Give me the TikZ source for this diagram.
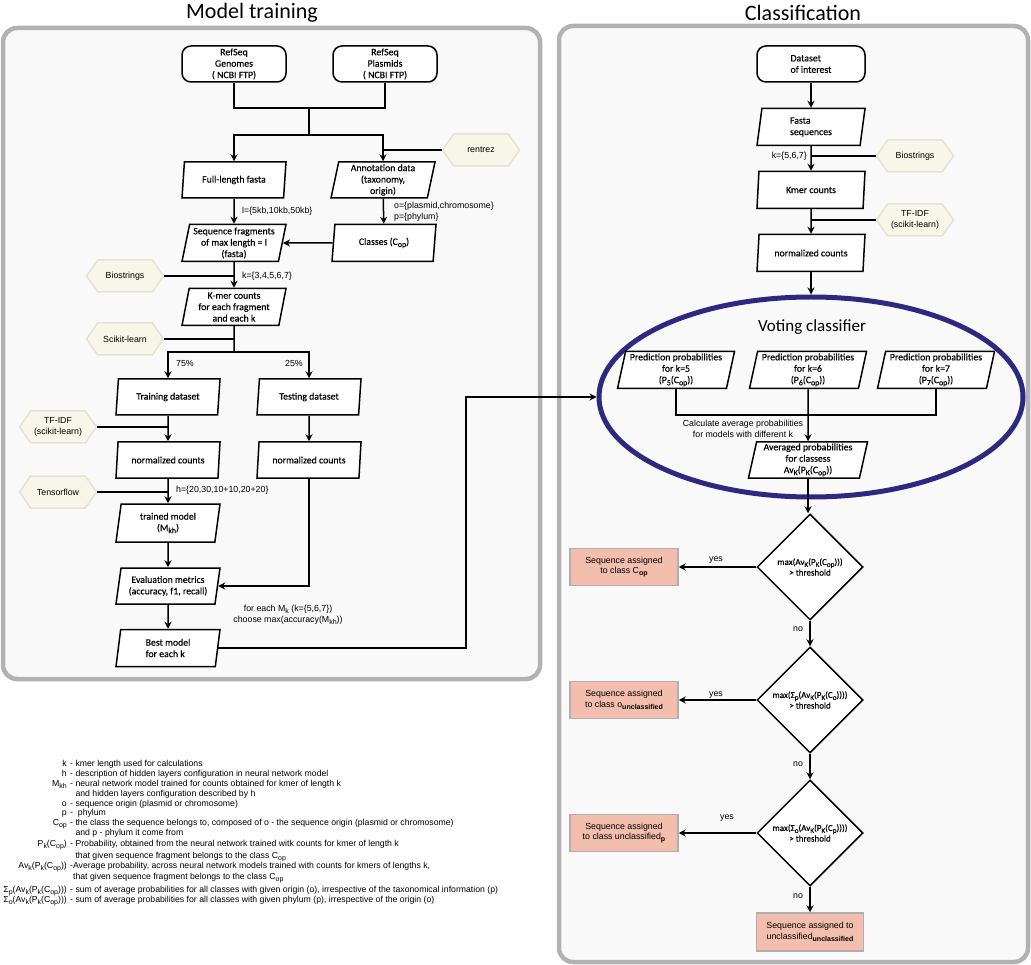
\documentclass[tikz,border=0pt]{standalone}
\usepackage{fontspec}
\setmainfont{Carlito}
\newfontfamily\arialfont{Liberation Sans}
\newfontfamily\boxfam{Carlito}[FakeBold=0.4]
\usetikzlibrary{arrows.meta,shapes.geometric,shapes.symbols}
\definecolor{panelfill}{RGB}{249,249,249}
\definecolor{paneldraw}{RGB}{178,178,178}
\definecolor{toolfill}{RGB}{248,246,232}
\definecolor{tooldraw}{RGB}{228,226,210}
\definecolor{resultfill}{RGB}{243,190,174}
\definecolor{resultdraw}{RGB}{175,175,175}
\definecolor{votedraw}{RGB}{46,41,128}
\newcommand{\boxfont}{\boxfam\fontsize{9.8}{11.4}\selectfont}
\newcommand{\smallboxfont}{\boxfam\fontsize{9}{10.6}\selectfont}
\newcommand{\labelfont}{\arialfont\fontsize{8.8}{10.6}\selectfont}
\newcommand{\legendfont}{\arialfont\fontsize{8.7}{10}\selectfont}
\newcommand{\lowsub}[1]{\raisebox{-0.45ex}{\scalebox{0.8}{#1}}}
\tikzset{
  panel/.style={draw=paneldraw, fill=panelfill, line width=4.5pt, rounded corners=14pt},
  paneltitle/.style={font=\fontsize{22}{24}\selectfont},
  startbox/.style={rectangle, rounded corners=9pt, draw, line width=1.5pt, fill=white, minimum width=104pt, minimum height=36pt, inner sep=1pt, align=center, font=\boxfont},
  iobox/.style={trapezium, trapezium left angle=77, trapezium right angle=103, trapezium stretches body=true, draw, line width=1.5pt, fill=white, minimum width=104pt, minimum height=36pt, inner sep=1pt, align=center, font=\boxfont},
  toolbox/.style={signal, signal to=east and west, signal pointer angle=110, draw=tooldraw, fill=toolfill, line width=1.5pt, minimum width=77pt, minimum height=32pt, inner sep=1pt, align=center, font=\labelfont},
  decision/.style={diamond, draw, line width=1.5pt, fill=white, minimum width=106pt, minimum height=106pt, inner sep=0pt, align=center, font=\smallboxfont},
  resultbox/.style={rectangle, draw=resultdraw, fill=resultfill, line width=1.5pt, minimum width=108pt, minimum height=37pt, inner sep=1pt, align=center, font=\labelfont},
  flow/.style={line width=1.5pt},
  flowarr/.style={line width=1.5pt, -{Stealth[length=7pt, width=7pt]}},
  lbl/.style={font=\labelfont, inner sep=1pt},
  legsym/.style={font=\legendfont, anchor=base east, inner sep=0pt},
  legtxt/.style={font=\legendfont, anchor=base west, inner sep=0pt}
}
\begin{document}
\begin{tikzpicture}[x=1pt, y=-1pt]
  \useasboundingbox (0,0) rectangle (1031,965);
  % panels
  \draw[panel] (3,28) rectangle (540,679);
  \draw[panel] (559,26) rectangle (1028,962);
  \node[paneltitle] (ttrain) at (252,13) {Model training};
  \node[paneltitle] (tclass) at (803,13) {Classification};

  % model training
  \node[startbox] (gen) at (234,64) {RefSeq\\Genomes\\( NCBI FTP)};
  \node[startbox] (pla) at (385,64) {RefSeq\\Plasmids\\( NCBI FTP)};
  \node[iobox] (full) at (234,180) {Full-length fasta};
  \node[iobox] (annot) at (383,180) {Annotation data\\(taxonomy,\\origin)};
  \node[iobox, minimum height=37pt] (frag) at (234,243) {Sequence fragments\\of max length = l\\(fasta)};
  \node[iobox, minimum height=37pt] (cls) at (384,243) {Classes (C\lowsub{op})};
  \node[iobox, minimum height=37pt] (kmer) at (234,307) {K-mer counts\\for each fragment\\and each k};
  \node[iobox] (train) at (168,397) {Training dataset};
  \node[iobox] (test) at (309,397) {Testing dataset};
  \node[iobox] (norm1) at (168,460) {normalized counts};
  \node[iobox] (norm2) at (309,460) {normalized counts};
  \node[iobox, minimum height=38pt] (model) at (168,523) {trained model\\(M\lowsub{kh})};
  \node[iobox] (evalm) at (168,586) {Evaluation metrics\\(accuracy, f1, recall)};
  \node[iobox, minimum height=37pt, align=left] (best) at (168,648) {Best model\\for each k};

  \node[toolbox] (rentrez) at (481,150) {rentrez};
  \node[toolbox] (bio1) at (125,276) {Biostrings};
  \node[toolbox] (sci) at (125,339) {Scikit-learn};
  \node[toolbox] (tfidf1) at (58,427) {TF-IDF\\(scikit-learn)};
  \node[toolbox] (tf) at (58,492) {Tensorflow};

  \coordinate (j1) at (309,108);
  \coordinate (j2) at (309,135);
  \coordinate (j3) at (234,352);
  \draw[flow] (gen.south) |- (j1) -| (pla.south);
  \draw[flow] (j1) -- (j2);
  \draw[flowarr] (j2) -| (full.north);
  \draw[flowarr] (j2) -| (annot.north);
  \draw[flow] (rentrez.west) -- (rentrez.west -| annot.north);
  \draw[flowarr] (full) -- (frag);
  \draw[flowarr] (annot) -- (cls);
  \draw[flowarr] (cls.west) -- (frag.east);
  \draw[flowarr] (frag) -- (kmer);
  \draw[flow] (bio1.east) -- (bio1.east -| frag.south);
  \draw[flow] (kmer.south) -- (j3);
  \draw[flow] (sci.east) -- (sci.east -| kmer.south);
  \draw[flowarr] (j3) -| (train.north);
  \draw[flowarr] (j3) -| (test.north);
  \draw[flowarr] (train) -- (norm1);
  \draw[flow] (tfidf1.east) -- (tfidf1.east -| train.south);
  \draw[flowarr] (test) -- (norm2);
  \draw[flowarr] (norm1) -- (model);
  \draw[flow] (tf.east) -- (tf.east -| norm1.south);
  \draw[flowarr] (model) -- (evalm);
  \draw[flowarr] (norm2.south) |- (evalm.east);
  \draw[flowarr] (evalm) -- (best);

  \node[lbl, anchor=west] (llen) at (241,211) {l=\{5kb,10kb,50kb\}};
  \node[lbl, anchor=west, align=left] (lop) at (393,212) {o=\{plasmid,chromosome\}\\p=\{phylum\}};
  \node[lbl, anchor=west] (lk1) at (241,276) {k=\{3,4,5,6,7\}};
  \node[lbl, anchor=west] (l75) at (175,363) {75\%};
  \node[lbl, anchor=east] (l25) at (304,363) {25\%};
  \node[lbl, anchor=west] (lh) at (175,490) {h=\{20,30,10+10,20+20\}};
  \node[lbl, align=center] (lbest) at (288,615) {for each M\lowsub{k} (k=\{5,6,7\})\\choose max(accuracy(M\lowsub{kh}))};

  % classification
  \node[startbox, minimum width=108pt, align=left] (data) at (811,64) {Dataset\\of interest};
  \node[iobox, minimum width=108pt, minimum height=37pt, align=left] (fasta) at (811,127) {Fasta\\sequences};
  \node[iobox, minimum width=108pt, minimum height=37pt] (kc) at (811,190) {Kmer counts};
  \node[iobox, minimum width=108pt, minimum height=37pt] (norm3) at (811,253) {normalized counts};
  \node[toolbox] (bio2) at (915,156) {Biostrings};
  \node[toolbox] (tfidf2) at (915,220) {TF-IDF\\(scikit-learn)};

  \node[ellipse, draw=votedraw, line width=5pt, minimum width=424pt, minimum height=200pt] (vote) at (811,397) {};
  \node[font=\fontsize{17}{19}\selectfont] (vtitle) at (812,327) {Voting classifier};
  \node[iobox, minimum width=117pt, minimum height=37pt] (pp5) at (676,370) {Prediction probabilities\\for k=5\\(P\lowsub{5}(C\lowsub{op}))};
  \node[iobox, minimum width=117pt, minimum height=37pt] (pp6) at (808,370) {Prediction probabilities\\for k=6\\(P\lowsub{6}(C\lowsub{op}))};
  \node[iobox, minimum width=117pt, minimum height=37pt] (pp7) at (936,370) {Prediction probabilities\\for k=7\\(P\lowsub{7}(C\lowsub{op}))};
  \node[iobox, minimum width=119pt] (avg) at (808,460) {Averaged probabilities\\for classess\\Av\lowsub{K}(P\lowsub{K}(C\lowsub{op}))};

  \node[decision] (d1) at (810,567) {max(Av\lowsub{K}(P\lowsub{K}(C\lowsub{op})))\\> threshold};
  \node[decision] (d2) at (810,700) {max(Σ\lowsub{p}(Av\lowsub{K}(P\lowsub{K}(C\lowsub{o}))))\\> threshold};
  \node[decision] (d3) at (810,833) {max(Σ\lowsub{o}(Av\lowsub{K}(P\lowsub{K}(C\lowsub{p}))))\\> threshold};
  \node[resultbox] (r1) at (624,567) {Sequence assigned\\to class C\lowsub{\textbf{op}}};
  \node[resultbox] (r2) at (624,700) {Sequence assigned\\to class o\lowsub{\textbf{unclassified}}};
  \node[resultbox] (r3) at (624,833) {Sequence assigned\\to class unclassified\lowsub{\textbf{p}}};
  \node[resultbox, minimum width=107pt, minimum height=38pt] (r4) at (810,932) {Sequence assigned to\\unclassified\lowsub{\textbf{unclassified}}};

  \coordinate (vj) at (808,415);
  \coordinate (vb) at (466,397);
  \draw[flowarr] (data) -- (fasta);
  \draw[flowarr] (fasta) -- (kc);
  \draw[flow] (bio2.west) -- (bio2.west -| fasta.south);
  \draw[flowarr] (kc) -- (norm3);
  \draw[flow] (tfidf2.west) -- (tfidf2.west -| kc.south);
  \draw[flowarr] (norm3.south) -- (norm3.south |- vote.north);
  \draw[flowarr] (best.east) -| (vb) -- (vote.west);
  \draw[flow] (pp5.south) |- (vj) -| (pp7.south);
  \draw[flowarr] (pp6.south) -- (avg.north);
  \draw[flowarr] (avg.south) -- (avg.south |- d1.north);
  \draw[flowarr] (d1) -- (d2);
  \draw[flowarr] (d2) -- (d3);
  \draw[flowarr] (d3) -- (r4);
  \draw[flowarr] (d1) -- (r1);
  \draw[flowarr] (d2) -- (r2);
  \draw[flowarr] (d3) -- (r3);

  \node[lbl, anchor=east] (lk2) at (808,156) {k=\{5,6,7\}};
  \node[lbl, align=center] (lavg) at (743,429) {Calculate average probabilities\\for models with different k};
  \node[lbl] (y1) at (716,560) {yes};
  \node[lbl] (y2) at (716,695) {yes};
  \node[lbl] (y3) at (727,818) {yes};
  \node[lbl] (n1) at (798,629) {no};
  \node[lbl] (n2) at (798,764) {no};
  \node[lbl] (n3) at (798,896) {no};

  % legend
  \foreach \yy/\sym/\desc [count=\i] in {
    766/k/{- kmer length used for calculations},
    776/h/{- description of hidden layers configuration in neural network model},
    786/M\lowsub{kh}/{- neural network model trained for counts obtained for kmer of length k},
    796/{}/{\hphantom{- }and hidden layers configuration described by h},
    806/o/{- sequence origin (plasmid or chromosome)},
    815/p/{-~ phylum},
    825/C\lowsub{op}/{- the class the sequence belongs to, composed of o - the sequence origin (plasmid or chromosome)},
    835/{}/{\hphantom{- }and p - phylum it come from},
    846/{P\lowsub{k}(C\lowsub{op})}/{- Probability, obtained from the neural network trained witk counts for kmer of length k},
    858/{}/{\hphantom{- }that given sequence fragment belongs to the class C\lowsub{op}},
    868/{Av\lowsub{k}(P\lowsub{k}(C\lowsub{op}))}/{-Average probability, across neural network models trained with counts for kmers of lengths k,},
    879/{}/{\hphantom{-}that given sequence fragment belongs to the class C\lowsub{op}},
    892/{Σ\lowsub{p}(Av\lowsub{k}(P\lowsub{k}(C\lowsub{op})))}/{- sum of average probabilities for all classes with given origin (o), irrespective of the taxonomical information (p)},
    902/{Σ\lowsub{o}(Av\lowsub{k}(P\lowsub{k}(C\lowsub{op})))}/{- sum of average probabilities for all classes with given phylum (p), irrespective of the origin (o)}}
  {
    \node[legsym] (ls\i) at (67,\yy) {\sym};
    \node[legtxt] (lt\i) at (70,\yy) {\desc};
  }
\end{tikzpicture}
\end{document}
